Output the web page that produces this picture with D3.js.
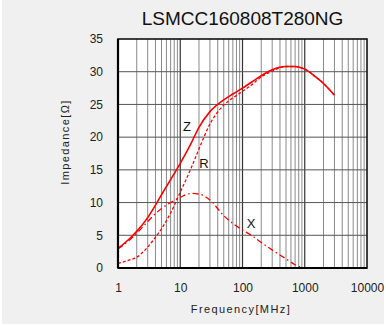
<!DOCTYPE html>
<html>
<head>
<meta charset="utf-8">
<script src="https://cdn.jsdelivr.net/npm/d3@7"></script>
<style>
  html, body { margin: 0; padding: 0; background: #ffffff; }
  svg { display: block; }
  text { font-family: "Liberation Sans", Arial, sans-serif; }
</style>
</head>
<body>
<svg id="chart" width="386" height="326"></svg>
<script>
// ---- data ----
const title = "LSMCC160808T280NG";
const xTickValues = [1, 10, 100, 1000, 10000];
const yTickValues = [0, 5, 10, 15, 20, 25, 30, 35];
const freq = [1, 1.5, 2, 3, 4, 5, 7, 10, 15, 20, 30, 50, 70, 100, 150, 200, 300, 500, 700, 1000, 1500, 2000, 3000];
const zValues = [3.0, 4.4, 5.6, 7.7, 9.6, 11.2, 13.5, 16.0, 19.1, 21.5, 23.9, 25.7, 26.6, 27.5, 28.6, 29.4, 30.3, 30.8, 30.8, 30.4, 29.2, 28.2, 26.4];
const rValues = [0.7, 1.2, 1.65, 3.2, 4.7, 6.0, 8.4, 11.6, 15.3, 18.2, 22.0, 24.9, 26.0, 27.0, 28.2, 29.2, 30.1, 30.8, 30.8, 30.4, 29.2, 28.2, 26.4];
const xFreq = [1, 1.5, 2, 3, 4, 5, 7, 10, 15, 20, 30, 50, 70, 100, 150, 200, 300, 500, 700, 1000];
const xValues = [2.9, 4.2, 5.3, 7.1, 8.3, 9.1, 10.0, 10.8, 11.4, 11.3, 10.4, 8.0, 6.8, 5.8, 4.8, 3.9, 2.75, 1.4, 0.5, 0.0];
const seriesLabels = [
  { name: "Z", f: 12.8, v: 20.9 },
  { name: "R", f: 24, v: 15.3 },
  { name: "X", f: 137, v: 6.1 }
];

// ---- drawing ----
const svg = d3.select("#chart");
svg.append("rect").attr("x", 2).attr("y", 0).attr("width", 382).attr("height", 324).attr("fill", "#f0f0f0");

const x = d3.scaleLog().domain([1, 10000]).range([118, 367]);
const y = d3.scaleLinear().domain([0, 35]).range([268, 39]);

// plot background
svg.append("rect")
  .attr("x", x(1)).attr("y", y(35))
  .attr("width", x(10000) - x(1)).attr("height", y(0) - y(35))
  .attr("fill", "#ffffff");

// vertical grid
const minorTicks = [];
for (let k = 0; k < 4; k++) {
  for (let m = 2; m <= 9; m++) minorTicks.push(m * Math.pow(10, k));
}
const grid = svg.append("g");
grid.selectAll("line.minor").data(minorTicks).enter().append("line")
  .attr("x1", d => x(d)).attr("x2", d => x(d))
  .attr("y1", y(35)).attr("y2", y(0))
  .attr("stroke", "#8a8a8a").attr("stroke-width", 1);
grid.selectAll("line.major").data(xTickValues.slice(1, -1)).enter().append("line")
  .attr("x1", d => x(d)).attr("x2", d => x(d))
  .attr("y1", y(35)).attr("y2", y(0))
  .attr("stroke", "#333333").attr("stroke-width", 1.2);
grid.selectAll("line.h").data(yTickValues.slice(1, -1)).enter().append("line")
  .attr("x1", x(1)).attr("x2", x(10000))
  .attr("y1", d => y(d)).attr("y2", d => y(d))
  .attr("stroke", "#555555").attr("stroke-width", 1);

// curves
const clipY = v => y(Math.max(0, v));
const line = d3.line().x(d => x(d[0])).y(d => clipY(d[1])).curve(d3.curveMonotoneX);
const curves = svg.append("g").attr("fill", "none").attr("stroke", "#ff0000");
curves.append("path").datum(freq.map((f, i) => [f, rValues[i]]))
  .attr("d", line).attr("stroke-width", 1.3).attr("stroke-dasharray", "3,2");
curves.append("path").datum(xFreq.map((f, i) => [f, xValues[i]]))
  .attr("d", line).attr("stroke-width", 1.3).attr("stroke-dasharray", "6,3,1.5,3");
curves.append("path").datum(freq.map((f, i) => [f, zValues[i]]))
  .attr("d", line).attr("stroke-width", 1.6);

// frame
svg.append("rect")
  .attr("x", x(1)).attr("y", y(35))
  .attr("width", x(10000) - x(1)).attr("height", y(0) - y(35))
  .attr("fill", "none").attr("stroke", "#111").attr("stroke-width", 1.6);
svg.append("line").attr("x1", x(1)).attr("x2", x(10000)).attr("y1", y(0)).attr("y2", y(0))
  .attr("stroke", "#000").attr("stroke-width", 2.2);
svg.append("line").attr("x1", x(1)).attr("x2", x(1)).attr("y1", y(35)).attr("y2", y(0))
  .attr("stroke", "#000").attr("stroke-width", 2.2);

// axes
const xAxis = d3.axisBottom(x).tickValues(xTickValues).tickFormat(d3.format("d")).tickSize(0).tickPadding(15);
const gx = svg.append("g").attr("transform", `translate(0,${y(0)})`).call(xAxis);
gx.select(".domain").remove();
gx.selectAll("text").attr("font-size", 12).attr("fill", "#222").attr("font-family", "Liberation Sans, Arial, sans-serif");

const yAxis = d3.axisLeft(y).tickValues(yTickValues).tickSize(0).tickPadding(15);
const gy = svg.append("g").attr("transform", `translate(${x(1)},0)`).call(yAxis);
gy.select(".domain").remove();
gy.selectAll("text").attr("font-size", 12).attr("fill", "#222").attr("font-family", "Liberation Sans, Arial, sans-serif");

// series labels
svg.selectAll("text.lbl").data(seriesLabels).enter().append("text")
  .attr("x", d => x(d.f)).attr("y", d => y(d.v))
  .attr("text-anchor", "middle").attr("font-size", 13).attr("fill", "#111")
  .text(d => d.name);

// title
svg.append("text").attr("x", (x(1) + x(10000)) / 2).attr("y", 25)
  .attr("text-anchor", "middle").attr("font-size", 19).attr("fill", "#111").text(title);

// axis titles
svg.append("text").attr("x", 241).attr("y", 312.5)
  .attr("text-anchor", "middle").attr("font-size", 11).attr("letter-spacing", 1.4).attr("fill", "#222")
  .text("Frequency[MHz]");
svg.append("text").attr("transform", "translate(68.5,142) rotate(-90)")
  .attr("text-anchor", "middle").attr("font-size", 11).attr("letter-spacing", 1.4).attr("fill", "#222")
  .text("Impedance[Ω]");
</script>
</body>
</html>
